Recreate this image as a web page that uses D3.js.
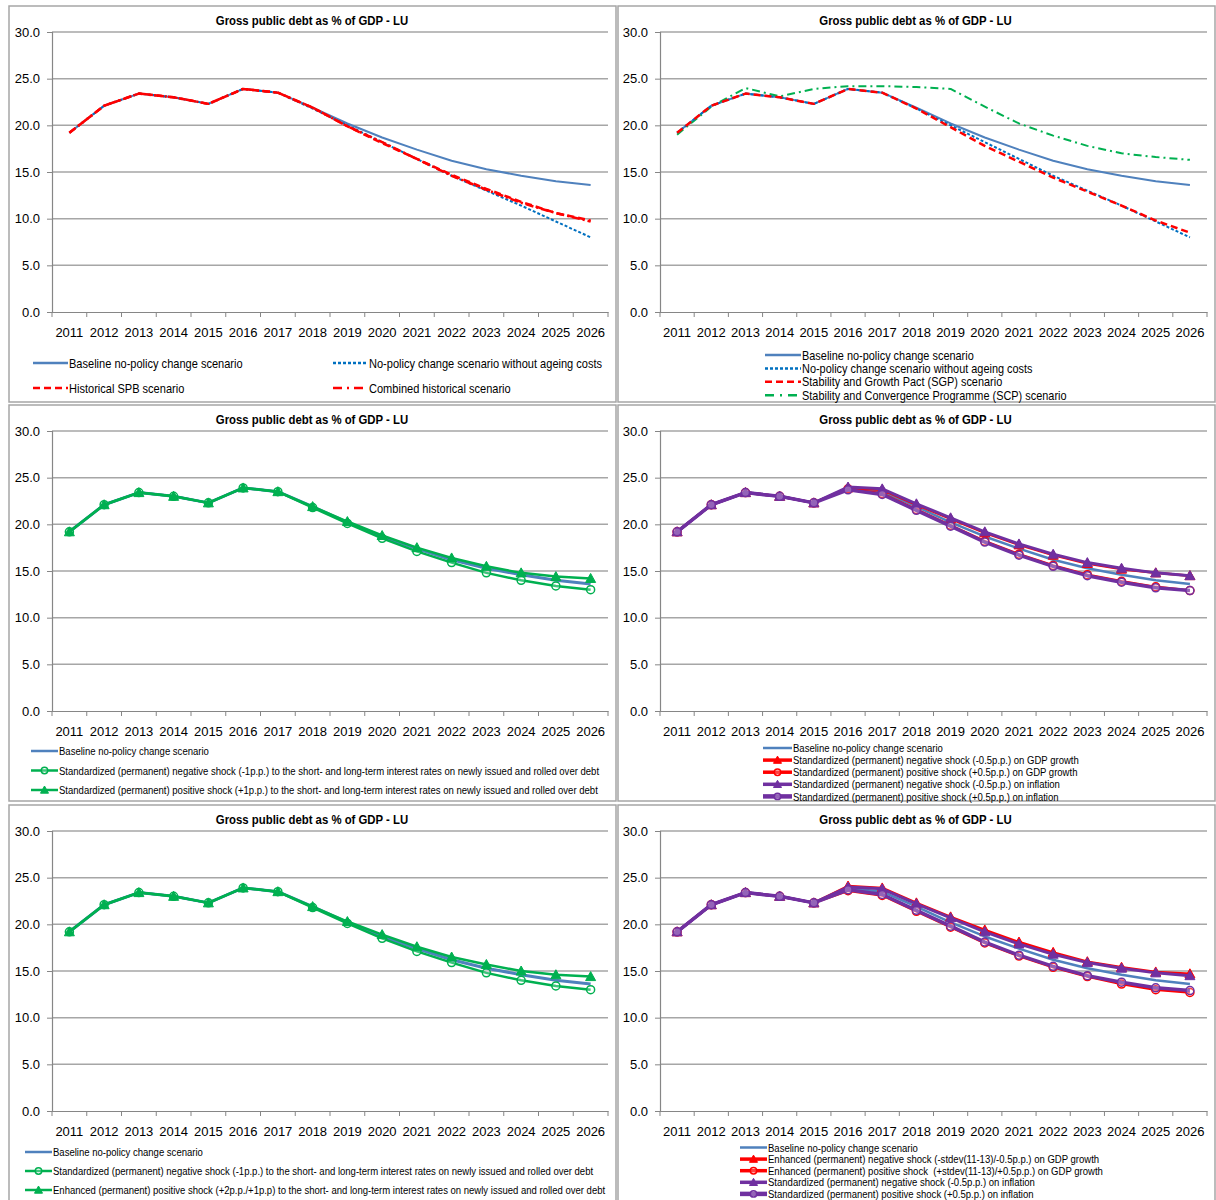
<!DOCTYPE html>
<html><head><meta charset="utf-8">
<script src="https://cdn.jsdelivr.net/npm/d3@7"></script>
<style>
body{margin:0;background:#fff;}
svg{display:block;}
</style></head>
<body><svg id="c" width="1216" height="1200"></svg>
<script>
const years = ["2011","2012","2013","2014","2015","2016","2017","2018","2019","2020","2021","2022","2023","2024","2025","2026"];
const yTicks = [0,5,10,15,20,25,30];
const chartTitle = "Gross public debt as % of GDP - LU";

const baseline = [19.2,22.1,23.4,23.0,22.3,23.9,23.5,21.9,20.2,18.7,17.4,16.2,15.3,14.6,14.0,13.6];
const noAgeing = [19.2,22.1,23.4,23.0,22.3,23.9,23.5,21.8,20.0,18.2,16.4,14.6,13.0,11.4,9.7,8.0];
const historicalSPB = [19.2,22.1,23.4,23.0,22.3,23.9,23.5,21.9,19.9,18.1,16.4,14.7,13.2,11.8,10.6,9.8];
const combinedHistorical = [19.2,22.1,23.4,23.0,22.3,23.9,23.5,21.9,19.9,18.2,16.4,14.6,13.1,11.7,10.6,9.7];
const sgp = [19.2,22.1,23.4,23.0,22.3,23.9,23.5,21.8,19.8,17.8,16.1,14.4,12.9,11.4,9.8,8.5];
const scp = [19.0,22.0,24.0,23.1,23.9,24.2,24.2,24.1,23.9,22.0,20.2,18.9,17.8,17.0,16.6,16.3];

const irNegStd = [19.2,22.1,23.4,23.0,22.3,23.9,23.5,21.8,20.1,18.5,17.1,15.9,14.8,14.0,13.4,13.0];
const irPosStd = [19.2,22.1,23.4,23.0,22.3,23.9,23.5,21.9,20.3,18.8,17.5,16.4,15.5,14.8,14.4,14.2];
const irPosEnh = [19.2,22.1,23.4,23.0,22.3,23.9,23.5,21.9,20.3,18.9,17.6,16.5,15.7,15.0,14.6,14.4];

const gdpNegStd = [19.2,22.1,23.4,23.0,22.3,23.9,23.7,22.1,20.6,19.1,17.8,16.7,15.8,15.2,14.8,14.5];
const gdpPosStd = [19.2,22.1,23.4,23.0,22.3,23.8,23.3,21.6,19.9,18.2,16.8,15.6,14.6,13.9,13.3,12.9];
const infNegStd = [19.2,22.1,23.4,23.0,22.3,24.0,23.8,22.2,20.7,19.2,17.9,16.8,15.9,15.3,14.8,14.5];
const infPosStd = [19.2,22.1,23.4,23.0,22.3,23.7,23.2,21.5,19.8,18.1,16.7,15.5,14.5,13.8,13.2,12.9];
const gdpNegEnh = [19.2,22.1,23.4,23.0,22.3,24.1,23.9,22.3,20.8,19.4,18.1,17.0,16.0,15.4,14.9,14.7];
const gdpPosEnh = [19.2,22.1,23.4,23.0,22.3,23.6,23.1,21.4,19.7,18.0,16.6,15.4,14.4,13.6,13.0,12.7];

const labels = {
  base: "Baseline no-policy change scenario",
  noAge: "No-policy change scenario without ageing costs",
  hist: "Historical SPB scenario",
  comb: "Combined historical scenario",
  sgp: "Stability and Growth Pact (SGP) scenario",
  scp: "Stability and Convergence Programme (SCP) scenario",
  irNeg: "Standardized (permanent) negative shock (-1p.p.) to the short- and long-term interest rates on newly issued and rolled over debt",
  irPos: "Standardized (permanent) positive shock (+1p.p.) to the short- and long-term interest rates on newly issued and rolled over debt",
  irPosEnh: "Enhanced (permanent) positive shock (+2p.p./+1p.p) to the short- and long-term interest rates on newly issued and rolled over debt",
  gdpNeg: "Standardized (permanent) negative shock (-0.5p.p.) on GDP growth",
  gdpPos: "Standardized (permanent) positive shock (+0.5p.p.) on GDP growth",
  infNeg: "Standardized (permanent) negative shock (-0.5p.p.) on inflation",
  infPos: "Standardized (permanent) positive shock (+0.5p.p.) on inflation",
  gdpNegEnh: "Enhanced (permanent) negative shock (-stdev(11-13)/-0.5p.p.) on GDP growth",
  gdpPosEnh: "Enhanced (permanent) positive shock  (+stdev(11-13)/+0.5p.p.) on GDP growth"
};

const C = {blue:"#4F81BD", dblue:"#0070C0", red:"#FF0000", green:"#00B050", purple:"#7030A0"};

const svg = d3.select("#c");
const FONT = "'Liberation Sans',Arial,sans-serif";

const colGeo = [{bx:9, bw:607, px0:52, px1:608}, {bx:618, bw:597, px0:660, px1:1207}];
const rowGeo = [{by:6, bh:396, off:0}, {by:405, bh:396, off:399}, {by:805, bh:420, off:799}];

function ntext(g, x, y, str, fs, sx, anchor, bold, maxRight) {
  const t = g.append("text").attr("transform", `translate(${x},${y}) scale(${sx},1)`)
    .attr("font-family", FONT).attr("font-size", fs).attr("fill", "#000")
    .attr("text-anchor", anchor || "start").attr("font-weight", bold ? "bold" : null)
    .style("white-space","pre").text(str);
  if (maxRight) {
    const w = t.node().getComputedTextLength() * sx;
    if (x + w > maxRight) {
      const s2 = sx * (maxRight - x) / w;
      t.attr("transform", `translate(${x},${y}) scale(${s2},1)`);
    }
  }
  return t;
}

function drawPanel(cfg) {
  const cg = colGeo[cfg.col], rg = rowGeo[cfg.row];
  const g = svg.append("g");
  g.append("rect").attr("x", cg.bx).attr("y", rg.by).attr("width", cg.bw).attr("height", rg.bh)
    .attr("fill","#fff").attr("stroke","#A6A6A6").attr("stroke-width",1.5);
  const top = 32 + rg.off, bot = 312 + rg.off;
  const x = d3.scaleBand().domain(years).range([cg.px0, cg.px1]).padding(0);
  const y = d3.scaleLinear().domain([0,30]).range([bot, top]);

  ntext(g, (cg.px0 + cg.px1)/2 - 18, top - 7, chartTitle, 13, 0.875, "middle", true);

  g.append("g").selectAll("line").data(yTicks.filter(v=>v>0)).join("line")
    .attr("x1", cg.px0).attr("x2", cg.px1).attr("y1", d=>y(d)).attr("y2", d=>y(d))
    .attr("stroke","#A6A6A6").attr("stroke-width",1.5);

  const ya = g.append("g").attr("transform",`translate(${cg.px0},0)`)
    .call(d3.axisLeft(y).tickValues(yTicks).tickFormat(d3.format(".1f")).tickSize(5).tickPadding(7));
  ya.attr("font-family", FONT);
  ya.select(".domain").attr("stroke","#868686").attr("stroke-width",1.2);
  ya.selectAll(".tick line").attr("stroke","#868686");
  ya.selectAll(".tick text").attr("font-size",13).attr("fill","#000");

  const xa = g.append("g").attr("transform",`translate(0,${bot})`)
    .call(d3.axisBottom(x).tickSize(0).tickPadding(16));
  xa.attr("font-family", FONT);
  xa.select(".domain").attr("stroke","#868686").attr("stroke-width",1.2);
  xa.selectAll(".tick text").attr("font-size",13).attr("fill","#000");
  const bounds = years.map(d=>x(d)).concat([cg.px1]);
  xa.append("g").selectAll("line").data(bounds).join("line")
    .attr("x1", d=>d).attr("x2", d=>d).attr("y1",0).attr("y2",5).attr("stroke","#868686");

  const line = d3.line().x((d,i)=>x(years[i]) + x.bandwidth()/2).y(d=>y(d));
  cfg.series.forEach(s=>{
    g.append("path").datum(s.values).attr("d", line).attr("fill","none")
      .attr("stroke", s.color).attr("stroke-width", s.width)
      .attr("stroke-dasharray", s.dash || null).attr("stroke-linejoin","round");
    if (s.marker) {
      const mg = g.append("g");
      s.values.forEach((v,i)=> drawMarker(mg, s, x(years[i]) + x.bandwidth()/2, y(v), 1));
    }
  });

  const L = cfg.legend;
  cfg.legendItems.forEach((it, i)=>{
    const pos = L.pos(i);
    const s = it.s;
    g.append("line").attr("x1", pos[0]).attr("x2", pos[0]+L.len).attr("y1", pos[1]).attr("y2", pos[1])
      .attr("stroke", s.color).attr("stroke-width", s.lw || s.width).attr("stroke-dasharray", s.ldash || s.dash || null);
    if (s.marker) drawMarker(g, s, pos[0]+L.len/2, pos[1], 0.8);
    ntext(g, pos[0]+L.len+1, pos[1]+L.fs*0.36, it.label, L.fs, L.sx, "start", false, L.maxRight);
  });
}

function drawMarker(g, s, cx, cy, k) {
  if (s.marker === "tri") {
    const r = 5*k;
    g.append("path").attr("d", `M${cx},${cy-r}L${cx+r},${cy+r*0.8}L${cx-r},${cy+r*0.8}Z`)
      .attr("fill", s.color).attr("stroke", s.color).attr("stroke-width",1);
  } else if (s.marker === "circ") {
    g.append("circle").attr("cx",cx).attr("cy",cy).attr("r",4*k)
      .attr("fill","#fff").attr("fill-opacity",0.25).attr("stroke", s.color).attr("stroke-width",1.5);
  }
}

// Panel 1
drawPanel({col:0,row:0,
  series:[{values: baseline, color: C.blue, width: 2},
    {values:noAgeing,color:C.dblue,width:2,dash:"3,2"},
    {values:combinedHistorical,color:C.red,width:2.5,dash:"8,3,2,3"},
    {values:historicalSPB,color:C.red,width:2.5,dash:"7,4"}],
  legend:{len:35, fs:13, sx:0.85, maxRight:606, pos:i=>[[33,363],[333,363],[33,388],[333,388]][i]},
  legendItems:[
    {s:{color:C.blue,width:2.5},label:labels.base},
    {s:{color:C.dblue,width:2.5,dash:"3,2"},label:labels.noAge},
    {s:{color:C.red,width:2.5,dash:"7,4"},label:labels.hist},
    {s:{color:C.red,width:2.5,dash:"9,5,2,5"},label:labels.comb}]
});

// Panel 2
drawPanel({col:1,row:0,
  series:[{values: baseline, color: C.blue, width: 2},
    {values:scp,color:C.green,width:2,dash:"8,4,2,4"},
    {values:noAgeing,color:C.dblue,width:2,dash:"3,2"},
    {values:sgp,color:C.red,width:2.5,dash:"7,4"}],
  legend:{len:36, fs:13, sx:0.84, maxRight:1208, pos:i=>[765, 355 + i*13.4]},
  legendItems:[
    {s:{color:C.blue,width:2.5},label:labels.base},
    {s:{color:C.dblue,width:2.5,dash:"3,2"},label:labels.noAge},
    {s:{color:C.red,width:2.5,dash:"7,4"},label:labels.sgp},
    {s:{color:C.green,width:2.5,dash:"9,6,2,6"},label:labels.scp}]
});

// Panel 3
const g3neg = {values:irNegStd,color:C.green,width:2.5,marker:"circ"};
const g3pos = {values:irPosStd,color:C.green,width:2.5,marker:"tri"};
drawPanel({col:0,row:1,
  series:[{values:baseline,color:C.blue,width:3}, g3neg, g3pos],
  legend:{len:27, fs:11.5, sx:0.83, maxRight:599, pos:i=>[31, 751 + i*19.5]},
  legendItems:[
    {s:{color:C.blue,width:2.5},label:labels.base},
    {s:g3neg,label:labels.irNeg},
    {s:g3pos,label:labels.irPos}]
});

// Panel 4
const p4 = [
  {values:gdpNegStd,color:C.red,width:2.5,marker:"tri",lw:3.5},
  {values:gdpPosStd,color:C.red,width:2.5,marker:"circ",lw:3.5},
  {values:infNegStd,color:C.purple,width:3,marker:"tri",lw:3.5},
  {values:infPosStd,color:C.purple,width:3.5,marker:"circ",lw:4.5}];
drawPanel({col:1,row:1,
  series:[{values:baseline,color:C.blue,width:2.5}].concat(p4),
  legend:{len:29, fs:11.5, sx:0.83, pos:i=>[763, 748 + i*12.1]},
  legendItems:[
    {s:{color:C.blue,width:2.5},label:labels.base},
    {s:p4[0],label:labels.gdpNeg},
    {s:p4[1],label:labels.gdpPos},
    {s:p4[2],label:labels.infNeg},
    {s:p4[3],label:labels.infPos}]
});

// Panel 5
const g5pos = {values:irPosEnh,color:C.green,width:2.5,marker:"tri"};
drawPanel({col:0,row:2,
  series:[{values:baseline,color:C.blue,width:3}, g3neg, g5pos],
  legend:{len:27, fs:11.5, sx:0.83, maxRight:605, pos:i=>[25, 1152 + i*19]},
  legendItems:[
    {s:{color:C.blue,width:2.5},label:labels.base},
    {s:g3neg,label:labels.irNeg},
    {s:g5pos,label:labels.irPosEnh}]
});

// Panel 6
const p6 = [
  {values:gdpNegEnh,color:C.red,width:2.5,marker:"tri",lw:3.5},
  {values:gdpPosEnh,color:C.red,width:2.5,marker:"circ",lw:3.5},
  {values:infNegStd,color:C.purple,width:3,marker:"tri",lw:3.5},
  {values:infPosStd,color:C.purple,width:3.5,marker:"circ",lw:4.5}];
drawPanel({col:1,row:2,
  series:[{values:baseline,color:C.blue,width:2.5}].concat(p6),
  legend:{len:27, fs:11.5, sx:0.83, pos:i=>[740, 1147.5 + i*11.6]},
  legendItems:[
    {s:{color:C.blue,width:2.5},label:labels.base},
    {s:p6[0],label:labels.gdpNegEnh},
    {s:p6[1],label:labels.gdpPosEnh},
    {s:p6[2],label:labels.infNeg},
    {s:p6[3],label:labels.infPos}]
});
</script></body></html>
